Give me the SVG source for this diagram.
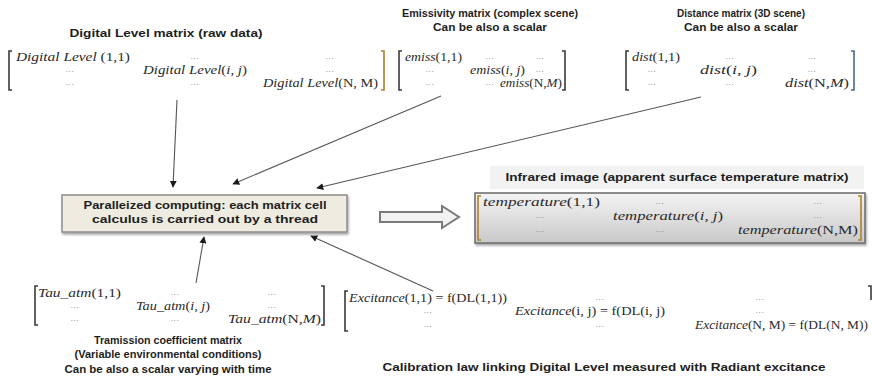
<svg xmlns="http://www.w3.org/2000/svg" width="872" height="385" viewBox="0 0 872 385">
<defs>
<style>
.t{font-family:"Liberation Sans",Arial,sans-serif;font-weight:bold;font-size:10.5px;fill:#1e1e1e}
.m{font-family:"Liberation Serif","Times New Roman",serif;font-style:italic;font-size:12px;fill:#2a2a2a}
.u{font-style:normal}
.d{font-family:"Liberation Serif",serif;font-size:9px;fill:#777;letter-spacing:0.6px}
.br{fill:none;stroke:#3a3a3a;stroke-width:1.6}
.bo{fill:none;stroke:#b0802a;stroke-width:1.6}
.bb{fill:none;stroke:#4a6a90;stroke-width:1.6}
.c{fill:none;stroke:#555;stroke-width:1.1;marker-end:url(#ah)}
</style>
<marker id="ah" viewBox="0 0 10 10" refX="9" refY="5" markerWidth="7" markerHeight="7" orient="auto" markerUnits="userSpaceOnUse">
<path d="M0,0 L10,5 L0,10 z" fill="#1a1a1a"/>
</marker>
<linearGradient id="tg" x1="0" y1="0" x2="0" y2="1">
<stop offset="0" stop-color="#f4f4f4"/>
<stop offset="1" stop-color="#c9c9c9"/>
</linearGradient>
<filter id="sh" x="-5%" y="-20%" width="110%" height="150%">
<feDropShadow dx="1" dy="2" stdDeviation="1.2" flood-color="#000" flood-opacity="0.35"/>
</filter>
</defs>

<!-- Digital Level matrix -->
<g id="dl-matrix">
<text class="t" x="166" y="37" text-anchor="middle" textLength="193" lengthAdjust="spacingAndGlyphs">Digital Level matrix  (raw data)</text>
<path class="br" d="M12,51 H9 V90 H12"/>
<path class="bo" d="M381,51 H384 V90 H381"/>
<text class="m" x="16" y="61" textLength="114" lengthAdjust="spacingAndGlyphs">Digital Level <tspan class="u">(1,1)</tspan></text>
<text class="d" x="195" y="59" text-anchor="middle">...</text>
<text class="d" x="330" y="59" text-anchor="middle">...</text>
<text class="d" x="70" y="72" text-anchor="middle">...</text>
<text class="m" x="143" y="74" textLength="104" lengthAdjust="spacingAndGlyphs">Digital Level<tspan class="u">(</tspan>i, j<tspan class="u">)</tspan></text>
<text class="d" x="330" y="72" text-anchor="middle">...</text>
<text class="d" x="70" y="85" text-anchor="middle">...</text>
<text class="d" x="195" y="85" text-anchor="middle">...</text>
<text class="m" x="263" y="87" textLength="115" lengthAdjust="spacingAndGlyphs">Digital Level<tspan class="u">(N, M)</tspan></text>
</g>

<!-- Emissivity matrix -->
<g id="emiss-matrix">
<text class="t" x="490" y="17" text-anchor="middle" textLength="176" lengthAdjust="spacingAndGlyphs">Emissivity matrix (complex scene)</text>
<text class="t" x="490" y="31" text-anchor="middle" textLength="114" lengthAdjust="spacingAndGlyphs">Can be also a scalar</text>
<path class="br" d="M402,51 H399 V90 H402"/>
<path class="br" d="M562,51 H565 V90 H562"/>
<text class="m" x="405" y="61" textLength="57" lengthAdjust="spacingAndGlyphs">emiss<tspan class="u">(1,1)</tspan></text>
<text class="d" x="490" y="59" text-anchor="middle">...</text>
<text class="d" x="540" y="59" text-anchor="middle">...</text>
<text class="d" x="430" y="72" text-anchor="middle">...</text>
<text class="m" x="470" y="74" textLength="55" lengthAdjust="spacingAndGlyphs">emiss<tspan class="u">(</tspan>i, j<tspan class="u">)</tspan></text>
<text class="d" x="540" y="72" text-anchor="middle">...</text>
<text class="d" x="430" y="85" text-anchor="middle">...</text>
<text class="d" x="490" y="85" text-anchor="middle">...</text>
<text class="m" x="500" y="87" textLength="62" lengthAdjust="spacingAndGlyphs">emiss<tspan class="u">(N,</tspan>M<tspan class="u">)</tspan></text>
</g>

<!-- Distance matrix -->
<g id="dist-matrix">
<text class="t" x="741" y="17" text-anchor="middle" textLength="128" lengthAdjust="spacingAndGlyphs">Distance matrix (3D scene)</text>
<text class="t" x="741" y="31" text-anchor="middle" textLength="114" lengthAdjust="spacingAndGlyphs">Can be also a scalar</text>
<path class="br" d="M629,51 H626 V90 H629"/>
<path class="bb" d="M851,51 H854 V90 H851"/>
<text class="m" x="632" y="61" textLength="48" lengthAdjust="spacingAndGlyphs">dist<tspan class="u">(1,1)</tspan></text>
<text class="d" x="730" y="59" text-anchor="middle">...</text>
<text class="d" x="812" y="59" text-anchor="middle">...</text>
<text class="d" x="652" y="72" text-anchor="middle">...</text>
<text class="m" x="700" y="74" textLength="57" lengthAdjust="spacingAndGlyphs">dist<tspan class="u">(</tspan>i, j<tspan class="u">)</tspan></text>
<text class="d" x="812" y="72" text-anchor="middle">...</text>
<text class="d" x="652" y="85" text-anchor="middle">...</text>
<text class="d" x="730" y="85" text-anchor="middle">...</text>
<text class="m" x="785" y="87" textLength="64" lengthAdjust="spacingAndGlyphs">dist<tspan class="u">(N,</tspan>M<tspan class="u">)</tspan></text>
</g>

<!-- Parallel computing box -->
<g id="compute">
<rect x="62" y="195" width="285" height="37" fill="#eeece1" stroke="#8c8c8c" stroke-width="1.5" filter="url(#sh)"/>
<text class="t" x="205" y="209" text-anchor="middle" textLength="243" lengthAdjust="spacingAndGlyphs">Paralleized computing: each matrix cell</text>
<text class="t" x="205" y="223" text-anchor="middle" textLength="226" lengthAdjust="spacingAndGlyphs">calculus is carried out by a thread</text>
</g>

<!-- Infrared image -->
<g id="infrared">
<rect x="490" y="166" width="374" height="23" fill="#f2f2f2"/>
<text class="t" x="677" y="181" text-anchor="middle" textLength="343" lengthAdjust="spacingAndGlyphs">Infrared  image (apparent surface temperature matrix)</text>
<rect x="475" y="193" width="390" height="50" fill="url(#tg)" stroke="#6a6a6a" stroke-width="1.5" filter="url(#sh)"/>
<path class="bo" d="M481,196 H478 V240 H481"/>
<path class="bo" d="M858,196 H861 V240 H858"/>
<text class="m" x="483" y="206" textLength="117" lengthAdjust="spacingAndGlyphs">temperature<tspan class="u">(1,1)</tspan></text>
<text class="d" x="660" y="204" text-anchor="middle">...</text>
<text class="d" x="818" y="204" text-anchor="middle">...</text>
<text class="d" x="540" y="218" text-anchor="middle">...</text>
<text class="m" x="613" y="220" textLength="110" lengthAdjust="spacingAndGlyphs">temperature<tspan class="u">(</tspan>i, j<tspan class="u">)</tspan></text>
<text class="d" x="818" y="218" text-anchor="middle">...</text>
<text class="d" x="540" y="232" text-anchor="middle">...</text>
<text class="d" x="660" y="232" text-anchor="middle">...</text>
<text class="m" x="738" y="234" textLength="120" lengthAdjust="spacingAndGlyphs">temperature<tspan class="u">(N,M)</tspan></text>
</g>

<!-- Tau matrix -->
<g id="tau-matrix">
<path class="br" d="M38,286 H35 V325 H38"/>
<path class="br" d="M321,286 H324 V325 H321"/>
<text class="m" x="38" y="297" textLength="83" lengthAdjust="spacingAndGlyphs">Tau_atm<tspan class="u">(1,1)</tspan></text>
<text class="d" x="175" y="295" text-anchor="middle">...</text>
<text class="d" x="272" y="295" text-anchor="middle">...</text>
<text class="d" x="75" y="308" text-anchor="middle">...</text>
<text class="m" x="136" y="310" textLength="74" lengthAdjust="spacingAndGlyphs">Tau_atm<tspan class="u">(</tspan>i, j<tspan class="u">)</tspan></text>
<text class="d" x="272" y="308" text-anchor="middle">...</text>
<text class="d" x="75" y="321" text-anchor="middle">...</text>
<text class="d" x="175" y="321" text-anchor="middle">...</text>
<text class="m" x="228" y="323" textLength="93" lengthAdjust="spacingAndGlyphs">Tau_atm<tspan class="u">(N,</tspan>M<tspan class="u">)</tspan></text>
<text class="t" x="168" y="344" text-anchor="middle" textLength="148" lengthAdjust="spacingAndGlyphs">Tramission coefficient matrix</text>
<text class="t" x="168" y="358" text-anchor="middle" textLength="187" lengthAdjust="spacingAndGlyphs">(Variable environmental conditions)</text>
<text class="t" x="168" y="373" text-anchor="middle" textLength="207" lengthAdjust="spacingAndGlyphs">Can be also a scalar varying with time</text>
</g>

<!-- Excitance matrix -->
<g id="excitance-matrix">
<path class="br" d="M348,291 H345 V331 H348"/>
<path class="br" d="M868,286 H871 V300"/>
<text class="m" x="349" y="302" textLength="158" lengthAdjust="spacingAndGlyphs">Excitance<tspan class="u">(1,1) = f(DL(1,1))</tspan></text>
<text class="d" x="600" y="300" text-anchor="middle">...</text>
<text class="d" x="760" y="300" text-anchor="middle">...</text>
<text class="d" x="428" y="313" text-anchor="middle">...</text>
<text class="m" x="515" y="315" textLength="150" lengthAdjust="spacingAndGlyphs">Excitance<tspan class="u">(i, j) = f(DL(i, j)</tspan></text>
<text class="d" x="760" y="313" text-anchor="middle">...</text>
<text class="d" x="428" y="327" text-anchor="middle">...</text>
<text class="d" x="600" y="327" text-anchor="middle">...</text>
<text class="m" x="695" y="329" textLength="173" lengthAdjust="spacingAndGlyphs">Excitance<tspan class="u">(N, M) = f(DL(N, M))</tspan></text>
<text class="t" x="604" y="371" text-anchor="middle" textLength="443" lengthAdjust="spacingAndGlyphs">Calibration law linking Digital Level measured with Radiant excitance</text>
</g>

<!-- Connectors -->
<g id="connectors">
<line class="c" x1="177" y1="100" x2="173" y2="187"/>
<line class="c" x1="441" y1="96" x2="233" y2="184"/>
<line class="c" x1="701" y1="97" x2="317" y2="188"/>
<line class="c" x1="196" y1="283" x2="204" y2="237"/>
<line class="c" x1="433" y1="291" x2="311" y2="236"/>
<polygon points="380,212 442,212 442,206 459,217 442,228 442,222 380,222" fill="#f2f2f2" stroke="#7a7a7a" stroke-width="2"/>
</g>
</svg>
